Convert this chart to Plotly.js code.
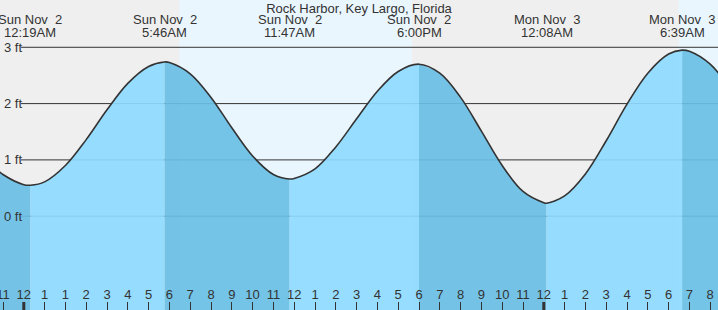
<!DOCTYPE html>
<html>
<head>
<meta charset="utf-8">
<script src="https://cdn.plot.ly/plotly-3.0.1.min.js"></script>
<style>
html,body{margin:0;padding:0;background:#efefef;}
#chart{width:718px;height:310px;}
</style>
</head>
<body>
<div id="chart"></div>
<script>
// Time in hours since Sun Nov 2 00:00 (local, before DST change), height in ft
const tideHours = [-1.5, -1, 0, 0.32, 1, 2, 3, 4, 5, 6, 6.77, 7, 8, 9, 10, 11, 12, 12.78, 13, 14, 15, 16, 17, 18, 19, 20, 21, 22, 23, 24, 25, 25.13, 26, 27, 28, 29, 30, 31, 31.65, 32, 33, 34];
const tideFeet  = [0.90, 0.74, 0.56, 0.55, 0.61, 0.90, 1.36, 1.89, 2.36, 2.66, 2.74, 2.73, 2.53, 2.11, 1.57, 1.07, 0.74, 0.66, 0.67, 0.84, 1.23, 1.73, 2.22, 2.57, 2.70, 2.54, 2.11, 1.51, 0.90, 0.44, 0.24, 0.23, 0.36, 0.75, 1.34, 1.99, 2.54, 2.88, 2.95, 2.93, 2.70, 2.24];

// High / low extrema
const extremaHours = [0.32, 6.77, 12.78, 19.00, 25.13, 31.65];
const extremaDates = ["Sun Nov  2", "Sun Nov  2", "Sun Nov  2", "Sun Nov  2", "Mon Nov  3", "Mon Nov  3"];
const extremaTimes = ["12:19AM", "5:46AM", "11:47AM", "6:00PM", "12:08AM", "6:39AM"];

// Daylight intervals (hours)
const sunrise = [7.48, 31.48];
const sunset  = [18.66, 40];

// Hour ticks (note the repeated 1 AM at the DST change)
const hourTicks = [-1,0,1,2,3,4,5,6,7,8,9,10,11,12,13,14,15,16,17,18,19,20,21,22,23,24,25,26,27,28,29,30,31,32,33];
const hourLabels = ["11","12","1","1","2","3","4","5","6","7","8","9","10","11","12","1","2","3","4","5","6","7","8","9","10","11","12","1","2","3","4","5","6","7","8"];
const midnights = [0, 25];

const gridFeet = [0, 1, 2, 3];
const gridLabels = ["0 ft", "1 ft", "2 ft", "3 ft"];

const title = "Rock Harbor, Key Largo, Florida";

const X_RANGE = [-1.144, 33.375];
const Y_RANGE = [-1.666, 3.840];
const W = 718, H = 310;
const TXT = "#333333";
const FONT = "Liberation Sans, Arial, sans-serif";
const RISING = "rgba(142,218,255,0.92)";
const FALLING = "rgba(105,191,229,0.92)";

// split points at extrema
const splitIdx = [0];
extremaHours.forEach(h => { splitIdx.push(tideHours.indexOf(h)); });
splitIdx.push(tideHours.length - 1);

const traces = [];
for (let s = 0; s < splitIdx.length - 1; s++) {
  const a = splitIdx[s], b = splitIdx[s + 1];
  const xs = tideHours.slice(a, b + 1);
  const ys = tideFeet.slice(a, b + 1);
  const rising = ys[ys.length - 1] > ys[0];
  traces.push({
    x: [xs[0], xs[xs.length - 1]], y: [Y_RANGE[0], Y_RANGE[0]],
    mode: "lines", line: {width: 0}, hoverinfo: "skip", showlegend: false
  });
  traces.push({
    x: xs, y: ys, mode: "lines", fill: "tonexty",
    fillcolor: rising ? RISING : FALLING,
    line: {width: 0, shape: "spline", smoothing: 1},
    hoverinfo: "skip", showlegend: false
  });
}
traces.push({
  x: tideHours, y: tideFeet, mode: "lines",
  line: {color: "#333333", width: 1.6, shape: "spline", smoothing: 1},
  hoverinfo: "skip", showlegend: false
});

const shapes = [];
sunrise.forEach((r, i) => {
  shapes.push({type: "rect", xref: "x", yref: "paper", x0: r, x1: sunset[i], y0: 0, y1: 1,
    fillcolor: "#eaf6fe", line: {width: 0}, layer: "below"});
});
gridFeet.forEach(f => {
  shapes.push({type: "line", xref: "paper", yref: "y", x0: 21 / W, x1: 1, y0: f, y1: f,
    line: {color: "#333333", width: 1}, layer: "below"});
});
midnights.forEach(m => {
  shapes.push({type: "line", xref: "x", yref: "paper", x0: m, x1: m, y0: 0, y1: 8 / H,
    line: {color: "#333333", width: 3}, layer: "above"});
});

const annotations = [];
gridFeet.forEach((f, i) => {
  annotations.push({xref: "paper", yref: "y", x: 0, y: f, xanchor: "left", yanchor: "middle",
    xshift: 2, text: gridLabels[i], showarrow: false, font: {family: FONT, size: 13, color: TXT}});
});
extremaHours.forEach((h, i) => {
  annotations.push({xref: "x", yref: "paper", x: h, y: 1 - 20 / H, xanchor: "center", yanchor: "middle",
    text: extremaDates[i].replace(/  /g, "&nbsp; "), showarrow: false, font: {family: FONT, size: 13, color: TXT}});
  annotations.push({xref: "x", yref: "paper", x: h, y: 1 - 32 / H, xanchor: "center", yanchor: "middle",
    text: extremaTimes[i], showarrow: false, font: {family: FONT, size: 13, color: TXT}});
});

const layout = {
  width: W, height: H,
  margin: {l: 0, r: 0, t: 0, b: 0, pad: 0},
  paper_bgcolor: "#efefef", plot_bgcolor: "#efefef",
  title: {text: title, x: 0.5, xanchor: "center", y: 1 - 8 / H, yanchor: "middle", yref: "container",
    font: {family: FONT, size: 13, color: TXT}},
  xaxis: {range: X_RANGE, showgrid: false, zeroline: false, showline: false,
    tickmode: "array", tickvals: hourTicks, ticktext: hourLabels,
    ticks: "inside", ticklen: 8, tickwidth: 1, tickcolor: "#333333",
    ticklabelposition: "inside", ticklabeloverflow: "allow",
    tickfont: {family: FONT, size: 13, color: TXT}, fixedrange: true},
  yaxis: {range: Y_RANGE, showgrid: false, zeroline: false, showline: false,
    showticklabels: false, ticks: "", fixedrange: true},
  shapes: shapes,
  annotations: annotations,
  showlegend: false
};

Plotly.newPlot("chart", traces, layout, {staticPlot: true, displayModeBar: false});
</script>
</body>
</html>
